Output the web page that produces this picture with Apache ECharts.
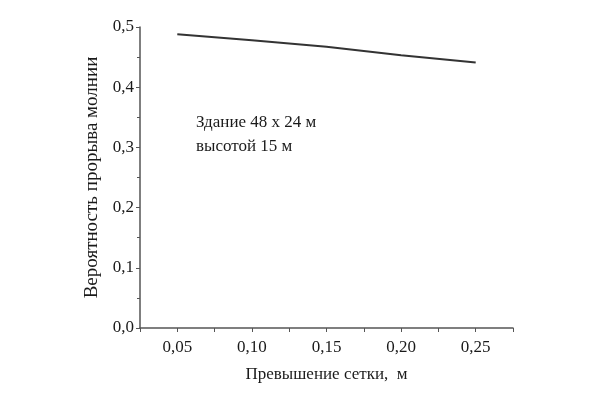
<!DOCTYPE html>
<html>
<head>
<meta charset="utf-8">
<script src="https://cdn.jsdelivr.net/npm/echarts@6/dist/echarts.min.js"></script>
<style>
  html, body { margin: 0; padding: 0; background: #fff; }
  #chart { width: 600px; height: 400px; }
</style>
</head>
<body>
<div id="chart"></div>
<script>
// превышение сетки, м
var gridHeights = [0.05, 0.10, 0.15, 0.20, 0.25];
// вероятность прорыва молнии
var probability = [0.488, 0.478, 0.467, 0.453, 0.441];

var xName = 'Превышение сетки,  м';
var yName = 'Вероятность прорыва молнии';
var noteLines = ['Здание 48 х 24 м', 'высотой 15 м'];

var font = '"Liberation Serif", "DejaVu Serif", serif';
var ink = '#1a1a1a';

var chart = echarts.init(document.getElementById('chart'));
chart.setOption({
  animation: false,
  grid: { left: 140, right: 87, top: 27, bottom: 72 },
  xAxis: {
    type: 'value',
    min: 0.025,
    max: 0.275,
    interval: 0.025,
    name: xName,
    nameLocation: 'middle',
    nameGap: 38,
    nameTextStyle: { fontFamily: font, fontSize: 17, color: ink },
    axisLine: { lineStyle: { color: '#555', width: 1.5 } },
    axisTick: { inside: false, length: 4, lineStyle: { color: '#555' } },
    splitLine: { show: false },
    axisLabel: {
      fontFamily: font, fontSize: 17, color: ink, margin: 11,
      formatter: function (v) {
        var k = Math.round(v * 1000);
        if (k % 50 !== 0) return '';
        return (k / 1000).toFixed(2).replace('.', ',');
      }
    }
  },
  yAxis: {
    type: 'value',
    min: 0,
    max: 0.5,
    interval: 0.1,
    name: yName,
    nameLocation: 'middle',
    nameGap: 33,
    nameTextStyle: { fontFamily: font, fontSize: 19, color: ink },
    axisLine: { show: true, lineStyle: { color: '#555', width: 1.5 } },
    axisTick: { show: true, inside: false, length: 4, lineStyle: { color: '#555' } },
    minorTick: { show: true, splitNumber: 2, length: 3, lineStyle: { color: '#555' } },
    splitLine: { show: false },
    axisLabel: {
      fontFamily: font, fontSize: 17, color: ink, margin: 6,
      formatter: function (v) { return v.toFixed(1).replace('.', ','); }
    }
  },
  series: [{
    type: 'line',
    data: gridHeights.map(function (x, i) { return [x, probability[i]]; }),
    showSymbol: false,
    lineStyle: { color: '#333', width: 2 },
    smooth: false
  }],
  graphic: [{
    type: 'text',
    left: 196,
    top: 111,
    style: {
      text: noteLines.join('\n'),
      fontFamily: font,
      fontSize: 17,
      lineHeight: 24,
      fill: ink
    }
  }]
});
</script>
</body>
</html>
